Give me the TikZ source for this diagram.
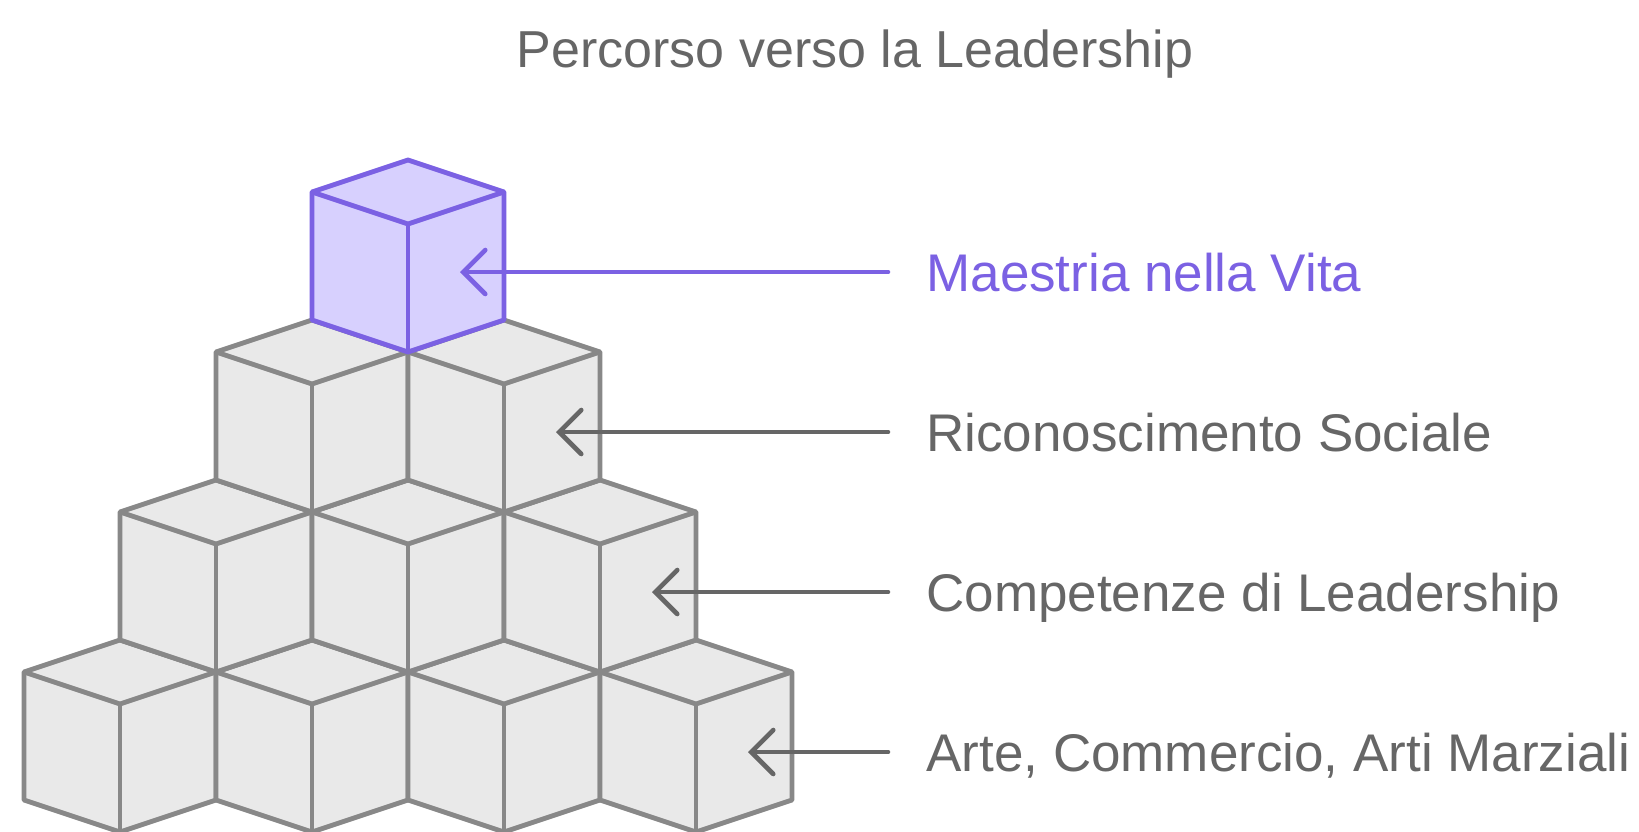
\documentclass[tikz,border=0pt]{standalone}
\usepackage{fontspec}
\setmainfont{Liberation Sans}
\usetikzlibrary{arrows.meta}
\definecolor{viola}{HTML}{7B61E3}
\definecolor{violachiaro}{HTML}{D7D0FE}
\definecolor{grigiolinea}{HTML}{888888}
\definecolor{grigiofondo}{HTML}{E9E9E9}
\definecolor{grigiotesto}{HTML}{666666}
\tikzset{
  cubo/.style={draw=grigiolinea, fill=grigiofondo, line width=2.4pt, line join=round},
  cubotop/.style={draw=viola, fill=violachiaro, line width=2.4pt, line join=round},
  freccia/.style={line width=2.3pt, line cap=round, -{Straight Barb[length=11pt,width=22pt,line cap=round]}},
  etichetta/.style={anchor=base west, inner sep=0pt, font=\fontsize{26.5}{30}\selectfont},
}
\begin{document}
\begin{tikzpicture}[x=0.5pt,y=-0.5pt]
                \useasboundingbox (0,0) rectangle (1639,831);
                % titolo
                \node [anchor=base, inner sep=0pt, text=grigiotesto, font=\fontsize{26}{30}\selectfont] (titolo) at (855,67) {Percorso verso la Leadership};
                % piramide di cubi, dal basso verso l'alto
                \foreach \r in {3,2,1} {
                \foreach \k in {0,...,\r} {
                \pgfmathsetmacro{\cx}{408-96*\r+192*\k}
                \pgfmathsetmacro{\ty}{160+160*\r}
                \draw[cubo] (\cx,\ty) -- ++(96,32) -- ++(0,128) -- ++(-96,32) -- ++(-96,-32) -- ++(0,-128) -- cycle;
                \draw[cubo, fill=none] (\cx-96,\ty+32) -- ++(96,32) -- ++(96,-32);
                \draw[cubo, fill=none] (\cx,\ty+64) -- ++(0,128);
                }
                }
                % cubo in cima
                \draw[cubotop] (408,160) -- ++(96,32) -- ++(0,128) -- ++(-96,32) -- ++(-96,-32) -- ++(0,-128) -- cycle;
                \draw[cubotop, fill=none] (312,192) -- ++(96,32) -- ++(96,-32);
                \draw[cubotop, fill=none] (408,224) -- ++(0,128);
                % etichette
                \node [etichetta, text=viola] (vita) at (926,291) {Maestria nella Vita};
                \node [etichetta, text=grigiotesto] (sociale) at (926,451) {Riconoscimento Sociale};
                \node [etichetta, text=grigiotesto] (competenze) at (926,611) {Competenze di Leadership};
                \node [etichetta, text=grigiotesto] (arte) at (926,771) {Arte, Commercio, Arti Marziali};
                % frecce
                \coordinate (s1) at (888,272); \coordinate (t1) at (460,272);
                \coordinate (s2) at (888,432); \coordinate (t2) at (556,432);
                \coordinate (s3) at (888,592); \coordinate (t3) at (652,592);
                \coordinate (s4) at (888,752); \coordinate (t4) at (748,752);
                \draw[freccia, viola] (s1) -- (t1);
                \draw[freccia, grigiotesto] (s2) -- (t2);
                \draw[freccia, grigiotesto] (s3) -- (t3);
                \draw[freccia, grigiotesto] (s4) -- (t4);
\end{tikzpicture}
\end{document}
